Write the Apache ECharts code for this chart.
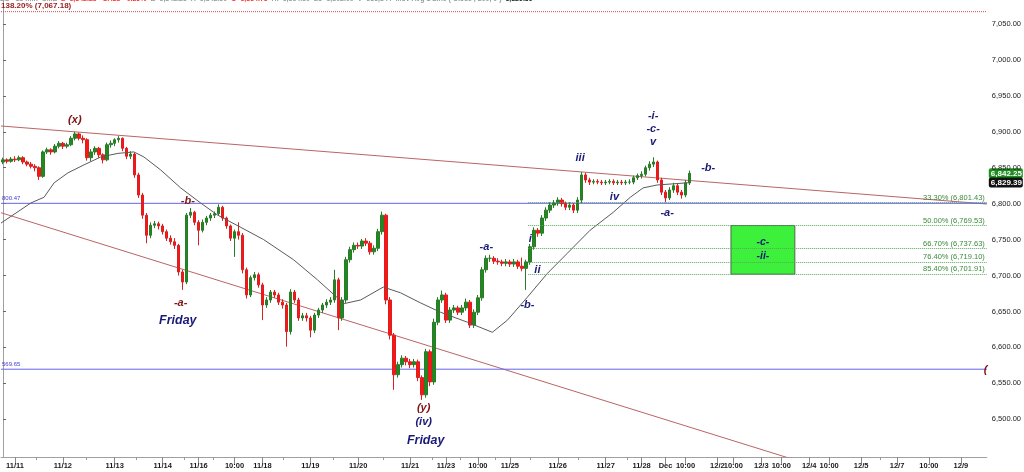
<!DOCTYPE html>
<html><head><meta charset="utf-8">
<script src="https://cdn.jsdelivr.net/npm/echarts@6/dist/echarts.min.js"></script>
<style>html,body{margin:0;padding:0;background:#fff}#c{width:1024px;height:472px}</style>
</head><body><div id="c"></div>
<script>
// ---------- data ----------
const slotCount = 247;
const xTickSlots  = [3, 15, 28, 40, 49, 58, 65, 77, 89, 102, 111, 119, 127, 139, 151, 160, 166, 171, 179, 183, 190, 195, 202, 207, 215, 224, 232, 240];
const xTickLabels = ['11/11','11/12','11/13','11/14','11/16','10:00','11/18','11/19','11/20','11/21','11/23','10:00','11/25','11/26','11/27','11/28','Dec','10:00','12/2','10:00','12/3','10:00','12/4','10:00','12/5','12/7','10:00','12/9'];
const xMinorTickSlots = [8.3, 20.8, 33.3, 45.5, 52.8, 70.3, 82.8, 95.3, 107.6, 114.6, 123.4, 132.1, 144.1, 156.4, 219.7];
const yTickValues = [6500, 6550, 6600, 6650, 6700, 6750, 6800, 6850, 6900, 6950, 7000, 7050];
const yMin = 6447.5, yMax = 7083.4;

// candles: [open, close, low, high]
const candles = [
[6858,6861,6855,6864],[6861,6859,6856,6863],[6859,6862,6857,6865],[6862,6861,6858,6866],[6861,6864,6859,6867],
[6864,6858,6855,6866],[6858,6855,6852,6860],[6855,6852,6849,6858],[6852,6850,6845,6855],[6850,6838,6833,6852],
[6838,6872,6836,6874],[6872,6875,6869,6878],[6875,6872,6868,6877],[6872,6880,6870,6883],[6880,6884,6877,6887],
[6884,6880,6876,6886],[6880,6882,6877,6885],[6882,6891,6880,6894],[6891,6897,6888,6900],[6897,6891,6888,6899],
[6891,6889,6884,6895],[6889,6864,6860,6891],[6864,6872,6859,6876],[6872,6877,6868,6880],[6877,6868,6864,6879],
[6868,6861,6856,6870],[6861,6882,6859,6885],[6882,6884,6878,6888],[6884,6889,6880,6891],[6889,6891,6885,6894],
[6891,6877,6873,6892],[6877,6866,6862,6879],[6866,6869,6862,6873],[6869,6840,6836,6871],[6840,6812,6808,6843],
[6812,6784,6779,6815],[6784,6756,6745,6787],[6756,6770,6752,6774],[6770,6772,6766,6776],[6772,6769,6764,6775],
[6769,6761,6757,6772],[6761,6752,6748,6764],[6752,6747,6743,6756],[6747,6742,6737,6752],[6742,6705,6700,6744],
[6705,6691,6680,6708],[6691,6784,6688,6787],[6784,6788,6780,6794],[6788,6774,6770,6790],[6774,6763,6742,6777],
[6763,6774,6760,6778],[6774,6780,6770,6783],[6780,6784,6776,6787],[6784,6786,6780,6789],[6786,6795,6783,6799],
[6795,6780,6776,6797],[6780,6769,6765,6782],[6769,6752,6748,6771],[6752,6761,6726,6764],[6761,6756,6750,6774],
[6756,6708,6703,6759],[6708,6673,6668,6711],[6673,6697,6670,6700],[6697,6701,6693,6705],[6701,6687,6683,6704],
[6687,6659,6638,6690],[6659,6666,6655,6670],[6666,6677,6662,6680],[6677,6673,6669,6680],[6673,6663,6659,6676],
[6663,6659,6654,6667],[6659,6622,6601,6662],[6622,6677,6618,6681],[6677,6666,6662,6680],[6666,6641,6637,6669],
[6641,6644,6637,6648],[6644,6641,6636,6648],[6641,6624,6614,6644],[6624,6645,6620,6648],[6645,6652,6641,6655],
[6652,6659,6648,6662],[6659,6663,6655,6667],[6663,6666,6659,6670],[6666,6694,6662,6708],[6694,6641,6624,6697],
[6641,6666,6637,6670],[6666,6722,6662,6726],[6722,6736,6718,6740],[6736,6742,6732,6746],[6742,6741,6737,6746],
[6741,6748,6737,6751],[6748,6745,6741,6752],[6745,6733,6729,6748],[6733,6738,6729,6742],[6738,6761,6734,6765],
[6761,6784,6757,6789],[6784,6666,6660,6786],[6666,6617,6611,6670],[6617,6562,6541,6620],[6562,6576,6558,6580],
[6576,6585,6572,6589],[6585,6580,6575,6588],[6580,6576,6571,6584],[6576,6580,6572,6584],[6580,6558,6553,6583],
[6558,6534,6527,6561],[6534,6594,6530,6598],[6594,6552,6546,6597],[6552,6635,6548,6640],[6635,6666,6631,6670],
[6666,6673,6662,6679],[6673,6638,6634,6676],[6638,6652,6634,6656],[6652,6655,6648,6659],[6655,6649,6645,6658],
[6649,6655,6645,6659],[6655,6663,6651,6668],[6663,6631,6627,6666],[6631,6649,6627,6653],[6649,6669,6645,6673],
[6669,6708,6665,6712],[6708,6724,6704,6728],[6724,6724,6719,6729],[6724,6720,6716,6727],[6720,6719,6715,6724],
[6719,6717,6713,6722],[6717,6719,6713,6723],[6719,6716,6712,6722],[6716,6719,6712,6723],[6719,6713,6709,6722],
[6713,6710,6706,6725],[6710,6719,6680,6722],[6719,6740,6715,6744],[6740,6763,6736,6767],[6763,6759,6754,6766],
[6759,6780,6755,6784],[6780,6791,6776,6795],[6791,6798,6787,6802],[6798,6801,6794,6805],[6801,6805,6797,6809],
[6805,6800,6796,6808],[6800,6795,6791,6803],[6795,6798,6791,6802],[6798,6791,6787,6801],[6791,6805,6787,6809],
[6805,6840,6801,6844],[6840,6833,6829,6843],[6833,6830,6826,6836],[6830,6831,6827,6834],[6831,6830,6827,6834],
[6830,6829,6826,6833],[6829,6830,6826,6833],[6830,6831,6827,6834],[6831,6829,6826,6834],[6829,6830,6826,6833],
[6830,6829,6826,6833],[6829,6830,6826,6833],[6830,6830,6827,6834],[6830,6836,6827,6839],[6836,6839,6833,6842],
[6839,6841,6835,6845],[6841,6850,6838,6853],[6850,6855,6846,6859],[6855,6858,6851,6864.5],[6858,6833,6829,6860],
[6833,6816,6812,6836],[6816,6808,6802,6819],[6808,6819,6805,6823],[6819,6825,6815,6829],[6825,6816,6812,6828],
[6816,6812,6807,6819],[6812,6829,6809,6833],[6829,6842.25,6826,6846]
];

// 200-period moving average (slot, value)
const maSlots  = [-0.5, 7.0, 10.3, 12.8, 16.3, 20.3, 24.5, 28.8, 32.8, 35.3, 39.5, 44.5, 49.5, 53.8, 59.6, 65.3, 72.8, 78.8, 82.8, 85.5, 89.6, 95.3, 99.6, 104.6, 109.6, 116.4, 122.6, 126.4, 131.4, 136.4, 141.4, 147.1, 152.9, 157.2, 160.4, 163.9, 171.4, 172.2];
const maValues = [6773, 6801, 6809, 6829, 6843, 6854, 6865, 6870, 6872, 6865, 6847, 6822, 6801, 6784, 6767, 6750, 6722, 6694, 6674, 6661, 6666, 6684, 6676, 6662, 6649, 6635, 6621, 6638, 6670, 6703, 6731, 6763, 6788, 6809, 6822, 6826, 6829, 6829.39];

// trendlines: [slotStart, priceStart, slotEnd, priceEnd]
const upperTrend = [-0.5, 6908.1, 246.5, 6799.5];
const lowerTrend = [-0.5, 6787.4, 246.5, 6360.3];

// horizontal levels
const blueLevels = [6800.47, 6569.65];
const blueLevelLabels = ['800.47', '569.65'];
const extLevel = 7067.18;
const extLabel = '138.20% (7,067.18)';
const fibStartSlot = 131.6;
const fibLevels = [6801.43, 6769.53, 6737.63, 6719.10, 6701.91];
const fibLabels = ['33.30% (6,801.43)', '50.00% (6,769.53)', '66.70% (6,737.63)', '76.40% (6,719.10)', '85.40% (6,701.91)'];

// target box
const targetBox = { s0: 182.4, s1: 198.4, top: 6769.53, bottom: 6701.91 };
const targetTexts = [{ t: '-c-', p: 6746 }, { t: '-ii-', p: 6727 }];

// wave annotations: slot, price, text, degree (r = dark red, b = dark blue)
const annotations = [
  { s: 18.0, p: 6916, t: '(x)', d: 'r' },
  { s: 46.3, p: 6804, t: '-b-', d: 'r' },
  { s: 44.5, p: 6662, t: '-a-', d: 'r' },
  { s: 43.8, p: 6638, t: 'Friday', d: 'bf' },
  { s: 105.4, p: 6516, t: '(y)', d: 'r' },
  { s: 105.4, p: 6496, t: '(iv)', d: 'b' },
  { s: 105.9, p: 6470, t: 'Friday', d: 'bf' },
  { s: 121.1, p: 6740, t: '-a-', d: 'b' },
  { s: 132.1, p: 6751, t: 'i', d: 'b' },
  { s: 133.9, p: 6708, t: 'ii', d: 'b' },
  { s: 131.4, p: 6659, t: '-b-', d: 'b' },
  { s: 144.6, p: 6864, t: 'iii', d: 'b' },
  { s: 153.2, p: 6809, t: 'iv', d: 'b' },
  { s: 162.9, p: 6922, t: '-i-', d: 'b' },
  { s: 162.9, p: 6904, t: '-c-', d: 'b' },
  { s: 162.9, p: 6886, t: 'v', d: 'b' },
  { s: 166.4, p: 6787, t: '-a-', d: 'b' },
  { s: 176.7, p: 6850, t: '-b-', d: 'b' },
  { s: 246.2, p: 6569, t: '(', d: 'r' }
];

const lastPrice = 6842.25;
const maLast = 6829.39;
const headerParts = [
  ['g', 'ES - 15 min  CME  '], ['r', 'L=6,842.25  -17.25  -0.25%'], ['g', '  B=6,842.25  A=6,842.50  '],
  ['r', 'O=6,854.75'], ['g', '  Hi=6,864.50  Lo=6,802.00  V=636,844  Mov Avg 1 Line ( Close , 200, 0 )  '], ['k', '6,829.39']
];

// ---------- build ----------
function fmt(v) {
  const s = v.toFixed(2); const [a, b] = s.split('.');
  return a.replace(/\B(?=(\d{3})+(?!\d))/g, ',') + '.' + b;
}
const categories = new Array(slotCount).fill('');
xTickSlots.forEach((s, k) => { categories[s] = xTickLabels[k]; });

const FONT = 'Liberation Sans, Arial, sans-serif';
const RED = '#801414', BLUE = '#1a1a78';
const X0 = -0.5, X1 = 246.5;

const fibLines = fibLevels.map((v, k) => [
  { coord: [fibStartSlot, v],
    label: { show: true, position: 'insideEndTop', formatter: fibLabels[k], color: '#3b8a3b', fontSize: 7.5, fontFamily: FONT, distance: [2, 1] } },
  { coord: [X1, v] }
]);

function levelSeries(v, color, type) {
  return {
    type: 'line', xAxisIndex: 1, yAxisIndex: 0, silent: true,
    data: [[X0, v], [X1, v]], symbol: 'none',
    lineStyle: { color: color, width: 1, type: type }, z: 2
  };
}

const annData = annotations.map(a => ({
  value: [a.s, a.p],
  label: {
    show: true, position: 'inside', formatter: a.t,
    color: a.d === 'r' ? RED : BLUE,
    fontSize: a.d === 'bf' ? 12.5 : 11,
    fontStyle: 'italic', fontWeight: 'bold', fontFamily: FONT
  }
}));
targetTexts.forEach(tt => annData.push({
  value: [(targetBox.s0 + targetBox.s1) / 2, tt.p],
  label: { show: true, position: 'inside', formatter: tt.t, color: BLUE, fontSize: 10.5, fontStyle: 'italic', fontWeight: 'bold', fontFamily: FONT }
}));
// level labels at the left edge
blueLevels.forEach((v, k) => annData.push({
  value: [X0, v],
  label: { show: true, position: [1, -8], formatter: blueLevelLabels[k], color: '#3c3cd6', fontSize: 6, fontFamily: FONT }
}));
annData.push({
  value: [X0, extLevel],
  label: { show: true, position: [0, -10], formatter: extLabel, color: '#961c1c', fontSize: 8, fontWeight: 'bold', fontFamily: FONT }
});

const series = [{
  type: 'candlestick', xAxisIndex: 0, yAxisIndex: 0,
  data: candles, barWidth: 3,
  itemStyle: { color: '#1f8a1f', color0: '#ff1414', borderColor: '#2a7a2a', borderColor0: '#d82020', borderWidth: 1 },
  z: 3
}, {
  type: 'line', xAxisIndex: 1, yAxisIndex: 0, name: 'MA200',
  data: maSlots.map((s, k) => [s, maValues[k]]),
  symbol: 'none', smooth: false,
  lineStyle: { color: '#5a5a5a', width: 1 }, z: 4,
  markLine: { silent: true, symbol: 'none', animation: false,
    lineStyle: { color: '#5aa65a', width: 1, type: 'dotted' }, data: fibLines },
  markArea: {
    silent: true,
    itemStyle: { color: '#3cf03c', borderColor: '#4a6a4a', borderWidth: 1, opacity: 1 },
    data: [[{ coord: [targetBox.s0, targetBox.top] }, { coord: [targetBox.s1, targetBox.bottom] }]]
  }
}, {
  type: 'line', xAxisIndex: 1, yAxisIndex: 0,
  data: [[upperTrend[0], upperTrend[1]], [upperTrend[2], upperTrend[3]]],
  symbol: 'none', lineStyle: { color: '#bb6464', width: 1 }, z: 2
}, {
  type: 'line', xAxisIndex: 1, yAxisIndex: 0,
  data: [[lowerTrend[0], lowerTrend[1]], [lowerTrend[2], lowerTrend[3]]],
  symbol: 'none', lineStyle: { color: '#bb6464', width: 1 }, z: 2
}];
blueLevels.forEach(v => series.push(levelSeries(v, '#6464f0', 'solid')));
series.push(levelSeries(extLevel, '#cc5050', 'dotted'));
series.push({
  type: 'scatter', xAxisIndex: 1, yAxisIndex: 0,
  data: annData, symbolSize: 0, z: 6, clip: false,
  itemStyle: { opacity: 1 }
});

const chart = echarts.init(document.getElementById('c'), null, { renderer: 'canvas' });
chart.setOption({
  animation: false,
  backgroundColor: '#ffffff',
  title: {
    text: headerParts.map(p => '{' + p[0] + '|' + p[1] + '}').join(''),
    left: 0, top: -4, padding: 0,
    textStyle: { fontSize: 7, fontFamily: FONT, rich: {
      g: { color: '#9a9a9a', fontSize: 7, fontFamily: FONT },
      r: { color: '#ff3030', fontSize: 7, fontFamily: FONT },
      k: { color: '#222', fontSize: 7, fontFamily: FONT }
    } }
  },
  grid: { left: 0, right: 37, top: 0, bottom: 15, containLabel: false },
  xAxis: [{
    type: 'category', data: categories, boundaryGap: true,
    axisLine: { show: true, lineStyle: { color: '#a0a0a0', width: 1 } },
    axisTick: { show: true, length: 7, interval: (i, v) => v !== '', lineStyle: { color: '#888' }, alignWithLabel: true },
    axisLabel: { show: true, interval: 0, margin: 5, fontSize: 7.5, fontWeight: 'bold', color: '#1a1a1a', fontFamily: FONT, hideOverlap: false },
    splitLine: { show: false }
  }, {
    type: 'value', min: X0, max: X1, show: true, position: 'bottom',
    axisLine: { show: false }, axisLabel: { show: false }, splitLine: { show: false },
    axisTick: { show: true, length: 3, customValues: xMinorTickSlots, lineStyle: { color: '#999' } }
  }],
  yAxis: [{
    type: 'value', position: 'right', min: yMin, max: yMax, scale: true,
    axisLine: { show: true, lineStyle: { color: '#a0a0a0' } },
    axisTick: { show: true, length: 3, customValues: yTickValues, lineStyle: { color: '#666' } },
    axisLabel: { show: true, customValues: yTickValues, margin: 5, fontSize: 7.5, color: '#222', fontFamily: FONT, formatter: v => fmt(v) },
    splitLine: { show: false }
  }],
  series: series
});

// price tags on the right axis, placed through the y scale
const tagX = chart.convertToPixel({ xAxisIndex: 1 }, X1) + 2;
const tags = [
  { v: lastPrice, bg: '#1e8e1e' },
  { v: maLast, bg: '#111111' }
];
chart.setOption({
  graphic: tags.map(tg => {
    const y = chart.convertToPixel({ yAxisIndex: 0 }, tg.v);
    return {
      type: 'group', left: tagX, top: y - 5, z: 100,
      children: [
        { type: 'rect', shape: { x: 0, y: 0, width: 34, height: 10, r: 2 }, style: { fill: tg.bg } },
        { type: 'text', style: { x: 2, y: 1.5, text: fmt(tg.v), fill: '#fff', font: 'bold 8px Liberation Sans, Arial, sans-serif' } }
      ]
    };
  })
});
</script>
</body></html>
